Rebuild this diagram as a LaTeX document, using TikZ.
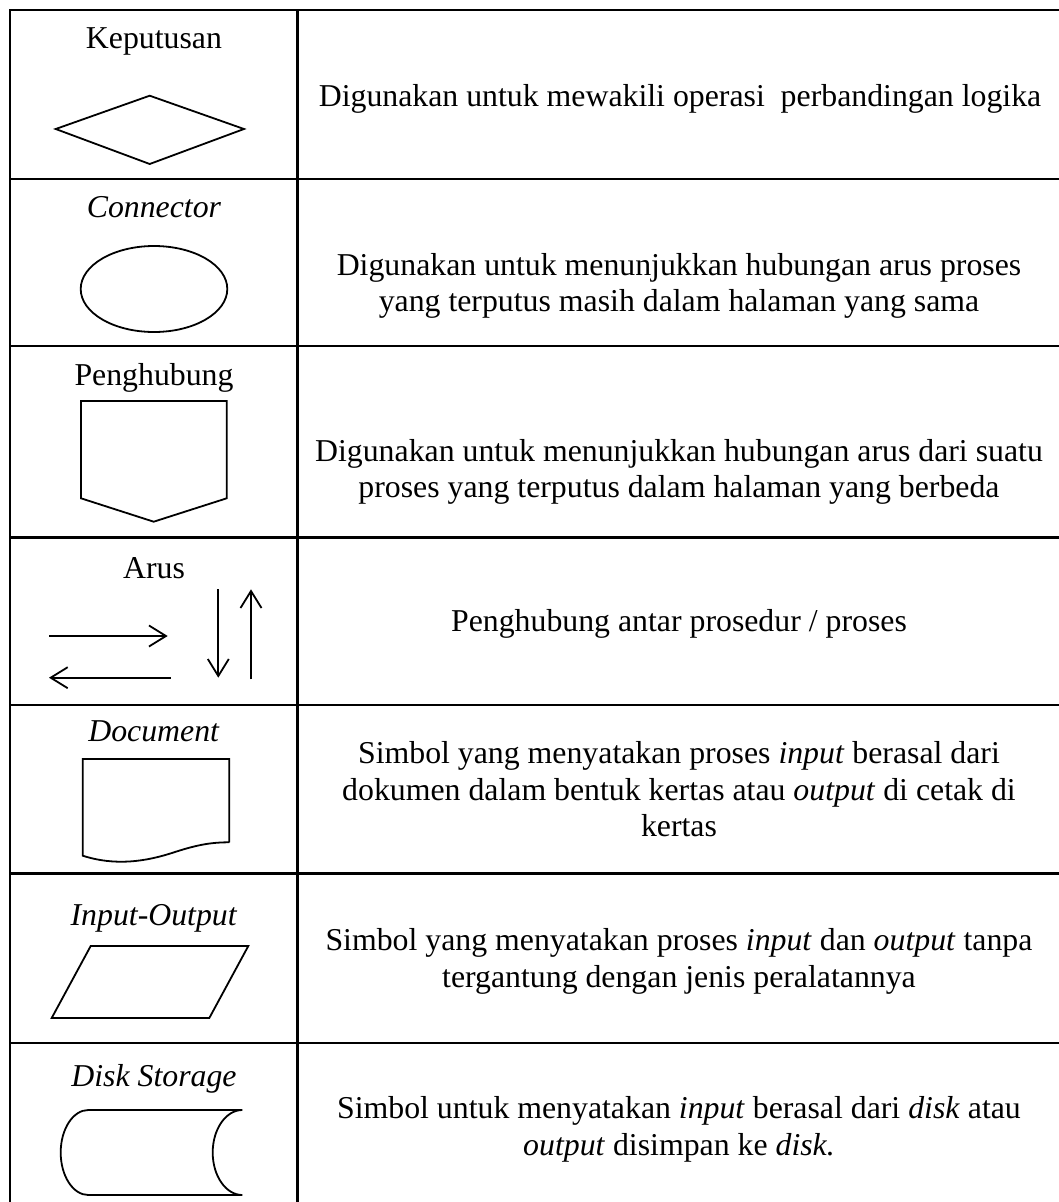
\documentclass[tikz,border=0pt]{standalone}
\usepackage{fontspec}
\setmainfont{Liberation Serif}
\usetikzlibrary{arrows.meta}
\begin{document}
\begin{tikzpicture}[x=1pt,y=-1pt,
  grid/.style={line width=2.6pt},
  shp/.style={line width=1.8pt, line join=miter},
  arw/.style={line width=1.8pt, -{Straight Barb[length=17pt,width=21pt,line width=1.8pt]}},
  txt/.style={anchor=base, inner sep=0pt, font=\fontsize{31.8}{36}\selectfont}]
\useasboundingbox (0,0) rectangle (1059,1202);
\clip (0,0) rectangle (1059,1202);
\fill[white] (0,0) rectangle (1059,1202);
% table grid
\draw[grid] (10,10) rectangle (1062,1206);
\draw[grid] (297.7,10) -- (297.7,1206);
\foreach \yy in {179,346,537.7,705,873.7,1043}
  \draw[grid] (10,\yy) -- (1062,\yy);
% left column labels
\node[txt] (l1) at (154,48) {Keputusan};
\node[txt] (l2) at (154,217) {\textit{Connector}};
\node[txt] (l3) at (154,385) {Penghubung};
\node[txt] (l4) at (154,578) {Arus};
\node[txt] (l5) at (154,741) {\textit{Document}};
\node[txt] (l6) at (154,925) {\textit{Input-Output}};
\node[txt] (l7) at (154,1086) {\textit{Disk Storage}};
% symbols
\draw[shp] (55.7,129) -- (149.7,95.7) -- (244,129) -- (149.7,164) -- cycle;
\draw[shp] (154,289) ellipse [x radius=73.3, y radius=43];
\draw[shp] (81,401) -- (226.7,401) -- (226.7,498.3) -- (153.7,521.7) -- (81,498.3) -- cycle;
\coordinate (a1s) at (49,636);   \coordinate (a1e) at (167.7,636);
\coordinate (a2s) at (170.7,677.7); \coordinate (a2e) at (49,677.7);
\coordinate (a3s) at (218.3,589); \coordinate (a3e) at (218.3,677.7);
\coordinate (a4s) at (251,679.3); \coordinate (a4e) at (251,589.3);
\draw[arw] (a1s) -- (a1e);
\draw[arw] (a2s) -- (a2e);
\draw[arw] (a3s) -- (a3e);
\draw[arw] (a4s) -- (a4e);
\draw[shp] (229.3,842.3) -- (229.3,759) -- (82.7,759) -- (82.7,855.7)
  .. controls (115,866) and (145,862) .. (175,852)
  .. controls (198,844.5) and (212,842.3) .. (229.3,842.3);
\draw[shp] (90.7,946) -- (248.3,946) -- (209.3,1018) -- (51.7,1018) -- cycle;
\draw[shp] (242.3,1110) -- (88.3,1110)
  arc [start angle=270, end angle=90, x radius=27.6, y radius=42.5]
  -- (242.3,1195)
  arc [start angle=90, end angle=270, x radius=29.6, y radius=42.5];
% right column texts
\node[txt] (r1a) at (680,106.7) {Digunakan untuk mewakili operasi\ \ perbandingan logika};
\node[txt] (r2a) at (679,275) {Digunakan untuk menunjukkan hubungan arus proses};
\node[txt] (r2b) at (679,311) {yang terputus masih dalam halaman yang sama};
\node[txt] (r3a) at (679,461) {Digunakan untuk menunjukkan hubungan arus dari suatu};
\node[txt] (r3b) at (679,497) {proses yang terputus dalam halaman yang berbeda};
\node[txt] (r4a) at (679,631.7) {Penghubung antar prosedur / proses};
\node[txt] (r5a) at (679,763.3) {Simbol yang menyatakan proses \textit{input} berasal dari};
\node[txt] (r5b) at (679,800) {dokumen dalam bentuk kertas atau \textit{output} di cetak di};
\node[txt] (r5c) at (679,836.7) {kertas};
\node[txt] (r6a) at (679,950) {Simbol yang menyatakan proses \textit{input} dan \textit{output} tanpa};
\node[txt] (r6b) at (679,987) {tergantung dengan jenis peralatannya};
\node[txt] (r7a) at (679,1118.3) {Simbol untuk menyatakan \textit{input} berasal dari \textit{disk} atau};
\node[txt] (r7b) at (679,1155) {\textit{output} disimpan ke \textit{disk.}};
\end{tikzpicture}
\end{document}
